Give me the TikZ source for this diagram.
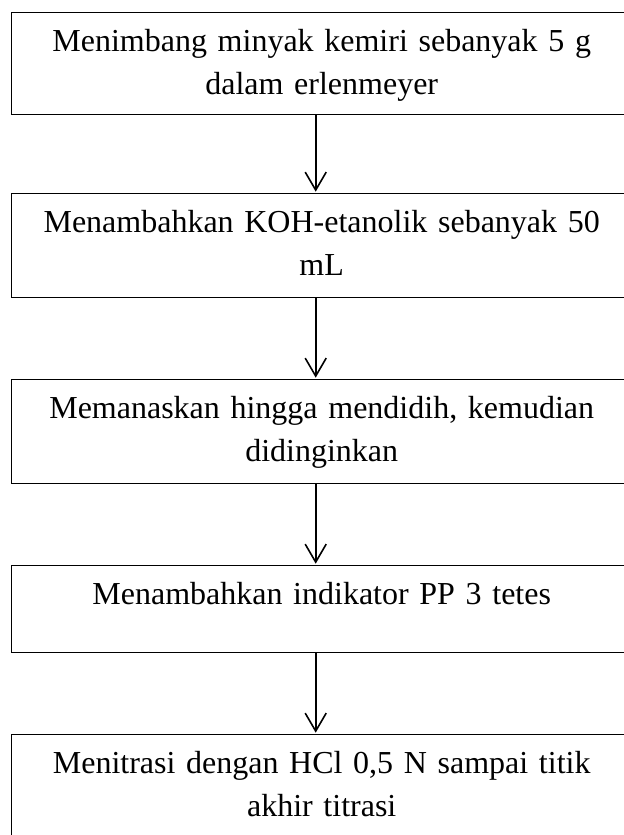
\documentclass[tikz,border=0pt]{standalone}
\usepackage{fontspec}
\setmainfont{Liberation Serif}
\usepackage{tikz}
\usetikzlibrary{arrows.meta,positioning}

\begin{document}
\begin{tikzpicture}[
    node distance=41pt,
    stepbox/.style={rectangle, draw, line width=0.6pt, text width=290pt, inner xsep=10pt, inner ysep=0pt, outer sep=0pt, align=center, text height=19.5pt, text depth=32.5pt, font=\fontsize{16}{21.5}\selectfont},
    arrow/.style={line width=0.8pt, -{Straight Barb[length=9pt, width=10.5pt]}, shorten >=1pt}
]

% Frame of the picture (boxes run past the right and bottom edges)
\path[use as bounding box] (0,0) rectangle (312pt,-417.5pt);
\clip (0,0) rectangle (312pt,-417.5pt);

% Steps (top to bottom)
\node[stepbox, anchor=north west, text depth=31.5pt] (weigh_oil) at (5.85pt,-6.35pt) {Menimbang minyak kemiri sebanyak 5 g\\dalam erlenmeyer};
\node[stepbox, below=39.5pt of weigh_oil] (add_koh) {Menambahkan KOH-etanolik sebanyak 50\\mL};
\node[stepbox, below=of add_koh] (heat_cool) {Memanaskan hingga mendidih, kemudian\\didinginkan};
\node[stepbox, below=of heat_cool, text depth=24pt] (add_pp) {Menambahkan indikator PP 3 tetes};
\node[stepbox, below=of add_pp, text depth=40pt] (titrate) {Menitrasi dengan HCl 0,5 N sampai titik\\akhir titrasi};

% Arrows
\draw[arrow] ([xshift=-3pt]weigh_oil.south) -- ([xshift=-3pt]add_koh.north);
\draw[arrow] ([xshift=-3pt]add_koh.south) -- ([xshift=-3pt]heat_cool.north);
\draw[arrow] ([xshift=-3pt]heat_cool.south) -- ([xshift=-3pt]add_pp.north);
\draw[arrow] ([xshift=-3pt]add_pp.south) -- ([xshift=-3pt]titrate.north);

\end{tikzpicture}
\end{document}
